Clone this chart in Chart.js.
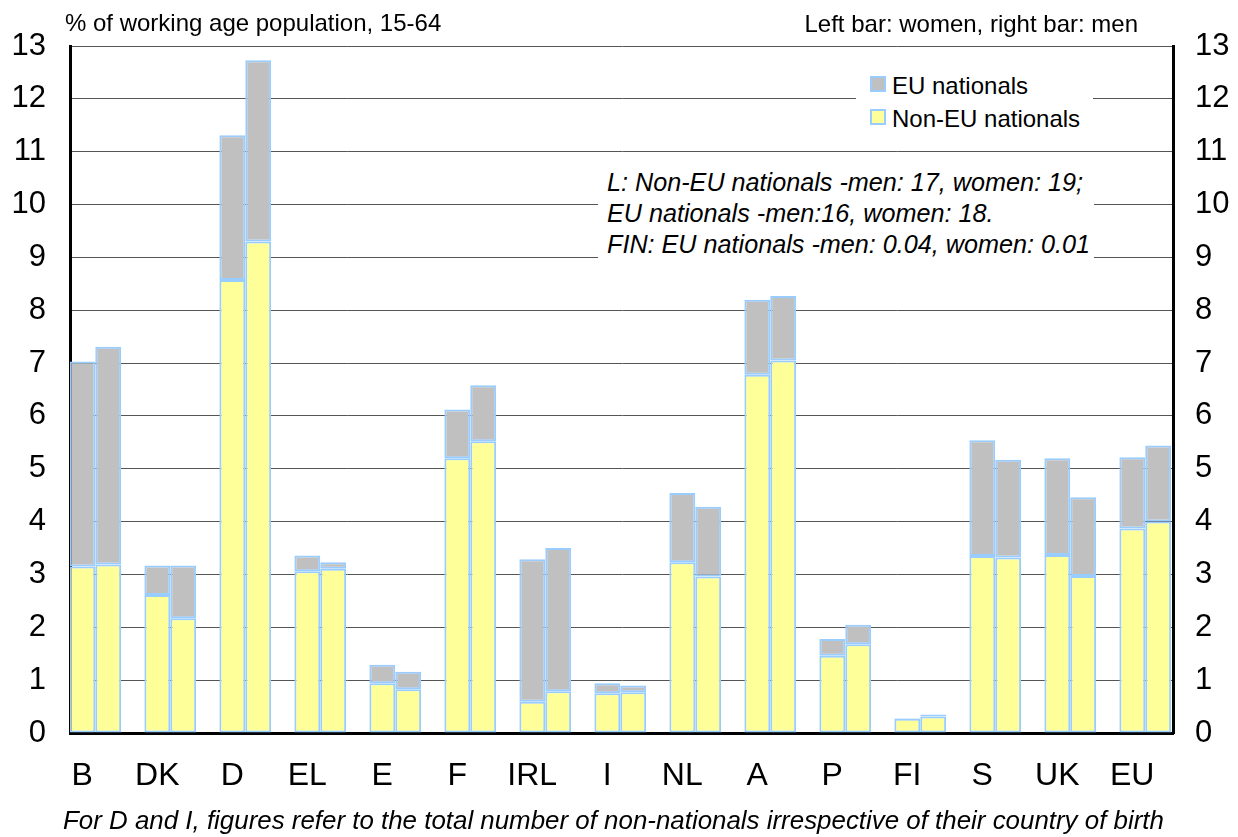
<!DOCTYPE html>
<html>
<head>
<meta charset="utf-8">
<script src="https://cdn.jsdelivr.net/npm/chart.js@4"></script>
<style>
   body { margin: 0; background: #fff; font-family: 'Liberation Sans', Arial, sans-serif; }
   #wrap { position: relative; width: 1238px; height: 837px; overflow: hidden; }
   #chart { position: absolute; left: 0; top: 0; }
   .txt { position: absolute; white-space: nowrap; line-height: 1; color: #000; }
   .box { position: absolute; background: #fff; }
   .legend-row { position: absolute; left: 14px; height: 24px; }
   .swatch { position: absolute; left: 0; width: 12px; height: 12px; border: 2px solid #99ccff; }
   .legend-row span { position: absolute; left: 22px; font-size: 24px; line-height: 1; white-space: nowrap; }
</style>
</head>
<body>
<div id="wrap">
   <canvas id="chart" width="1238" height="837"></canvas>

   <div class="txt" style="left: 65px; top: 10.7px; font-size: 24px;">% of working age population, 15-64</div>
   <div class="txt" style="right: 100px; top: 11.7px; font-size: 24px;">Left bar: women, right bar: men</div>

   <!-- legend, white box hides the gridline behind it -->
   <div class="box" id="legend" style="left: 856px; top: 60px; width: 237px; height: 80px;"></div>

   <!-- note box -->
   <div class="box" style="left: 598px; top: 160px; width: 496px; height: 105px;"></div>
   <div class="txt" style="left: 607px; top: 170.3px; font-size: 25.2px; font-style: italic;">L: Non-EU nationals -men: 17, women: 19;</div>
   <div class="txt" style="left: 607px; top: 201.3px; font-size: 25.2px; font-style: italic;">EU nationals -men:16, women: 18.</div>
   <div class="txt" style="left: 607px; top: 231.8px; font-size: 25.2px; font-style: italic;">FIN: EU nationals -men: 0.04, women: 0.01</div>

   <div class="txt" style="left: 63px; top: 808px; font-size: 25.9px; font-style: italic;">For D and I, figures refer to the total number of non-nationals irrespective of their country of birth</div>
</div>

<script>
// Countries (left bar = women, right bar = men)
const categories = ['B', 'DK', 'D', 'EL', 'E', 'F', 'IRL', 'I', 'NL', 'A', 'P', 'FI', 'S', 'UK', 'EU'];

// % of working age population, 15-64
const nonEuWomen = [3.15, 2.61, 8.57, 3.06, 0.94, 5.20, 0.59, 0.75, 3.23, 6.78, 1.46, 0.27, 3.35, 3.37, 3.87];
const euWomen    = [3.88, 0.56, 2.74, 0.30, 0.35, 0.92, 2.70, 0.19, 1.31, 1.42, 0.32, 0.01, 2.19, 1.83, 1.35];
const nonEuMen   = [3.19, 2.17, 9.30, 3.11, 0.83, 5.52, 0.79, 0.77, 2.96, 7.05, 1.68, 0.31, 3.32, 2.97, 4.00];
const euMen      = [4.12, 1.00, 3.43, 0.12, 0.33, 1.06, 2.71, 0.13, 1.32, 1.22, 0.37, 0.04, 1.85, 1.49, 1.44];

const yTickValues = [0, 1, 2, 3, 4, 5, 6, 7, 8, 9, 10, 11, 12, 13];

const legendItems = [
   { label: 'EU nationals', color: '#c0c0c0' },
   { label: 'Non-EU nationals', color: '#ffff99' }
];

const BORDER = '#99ccff';

// bars sit on numeric positions 0..14 so the first group can hug the left axis
const toPoints = arr => arr.map((v, i) => ({ x: i, y: v }));

const makeSet = (label, values, color, stack) => ({
   label: label,
   data: toPoints(values),
   backgroundColor: color,
   borderColor: BORDER,
   borderWidth: 2,
   borderSkipped: false,
   stack: stack,
   categoryPercentage: 0.69,
   barPercentage: 1
});

// legend html
const legendBox = document.getElementById('legend');
legendItems.forEach((item, i) => {
   const row = document.createElement('div');
   row.className = 'legend-row';
   row.style.top = (16 + i * 33) + 'px';
   row.innerHTML = `<div class="swatch" style="background:${item.color}"></div><span style="top:-2px">${item.label}</span>`;
   legendBox.appendChild(row);
});

const tickFont = { family: "'Liberation Sans', Arial, sans-serif", size: 31 };

new Chart(document.getElementById('chart').getContext('2d'), {
   type: 'bar',
   data: {
      datasets: [
         makeSet('Non-EU nationals', nonEuWomen, '#ffff99', 'women'),
         makeSet('EU nationals', euWomen, '#c0c0c0', 'women'),
         makeSet('Non-EU nationals', nonEuMen, '#ffff99', 'men'),
         makeSet('EU nationals', euMen, '#c0c0c0', 'men')
      ]
   },
   options: {
      responsive: false,
      animation: false,
      devicePixelRatio: 1,
      layout: { padding: { left: 0, right: 0, top: 46, bottom: 0 } },
      plugins: { legend: { display: false }, tooltip: { enabled: false } },
      scales: {
         x: {
            type: 'linear',
            offset: false,
            min: -0.337,
            max: 14.37,
            grid: { display: false, drawTicks: false },
            border: { color: '#000', width: 3 },
            afterBuildTicks: s => { s.ticks = categories.map((c, i) => ({ value: i })); },
            afterFit: s => { s.height = 104; },
            ticks: {
               autoSkip: false,
               maxRotation: 0,
               padding: 24,
               labelOffset: -13,
               color: '#000',
               font: { family: "'Liberation Sans', Arial, sans-serif", size: 32 },
               callback: v => categories[v]
            }
         },
         y: {
            stacked: true,
            min: 0,
            max: 13,
            afterBuildTicks: s => { s.ticks = yTickValues.map(v => ({ value: v })); },
            afterFit: s => { s.width = 70; },
            grid: { color: '#555', lineWidth: 1, drawTicks: false },
            border: { color: '#000', width: 3 },
            ticks: { padding: 24, color: '#000', font: tickFont }
         },
         y2: {
            position: 'right',
            min: 0,
            max: 13,
            afterBuildTicks: s => { s.ticks = yTickValues.map(v => ({ value: v })); },
            afterFit: s => { s.width = 65; },
            grid: { display: false, drawTicks: false },
            border: { color: '#000', width: 3 },
            ticks: { padding: 22, color: '#000', font: tickFont }
         }
      }
   }
});
</script>
</body>
</html>
